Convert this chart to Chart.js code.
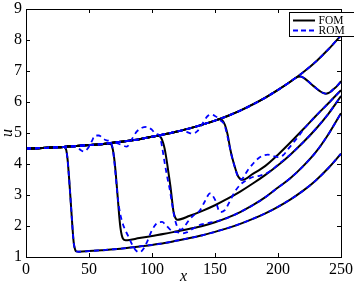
<!DOCTYPE html>
<html>
<head>
<meta charset="utf-8">
<script src="https://cdn.jsdelivr.net/npm/chart.js@4.4.1/dist/chart.umd.min.js"></script>
<style>
  body { margin: 0; background: #fff; }
</style>
</head>
<body>
<canvas id="chart" width="354" height="284"></canvas>
<script>
Chart.defaults.font.family = "'Liberation Serif', 'DejaVu Serif', serif";
Chart.defaults.color = '#000';

// upper branch (inflow side), shared by every snapshot
const envX = [0, 10, 20, 30, 40, 50, 60, 70, 80, 90, 100, 110, 120, 130, 140, 150, 160, 170, 180, 190, 200, 210, 220, 230, 240, 250];
const envU = [4.50, 4.51, 4.53, 4.55, 4.58, 4.61, 4.64, 4.69, 4.74, 4.80, 4.88, 4.96, 5.05, 5.15, 5.27, 5.40, 5.55, 5.72, 5.92, 6.14, 6.39, 6.66, 6.96, 7.30, 7.70, 8.15];

// FOM snapshots: shock + downstream branch
const fom1X = [31, 32, 33, 34, 35, 36, 37, 38, 39, 40, 42, 50, 60, 70, 80, 90, 100, 110, 120, 130, 140, 150, 160, 170, 180, 190, 200, 210, 220, 230, 240, 250];
const fom1U = [4.53, 4.44, 4.15, 3.65, 3.08, 2.48, 1.88, 1.42, 1.24, 1.18, 1.17, 1.19, 1.22, 1.25, 1.29, 1.34, 1.39, 1.45, 1.53, 1.61, 1.70, 1.81, 1.93, 2.07, 2.23, 2.41, 2.62, 2.86, 3.14, 3.47, 3.87, 4.33];

const fom2X = [67, 68, 69, 70, 71, 72, 73, 74, 75, 76, 77, 79, 90, 100, 110, 120, 130, 140, 150, 160, 170, 180, 190, 200, 210, 220, 230, 240, 250];
const fom2U = [4.66, 4.60, 4.45, 4.18, 3.80, 3.32, 2.82, 2.32, 1.93, 1.70, 1.59, 1.54, 1.61, 1.68, 1.75, 1.83, 1.91, 2.00, 2.12, 2.27, 2.45, 2.67, 2.93, 3.24, 3.55, 3.93, 4.38, 4.96, 5.64];

const fom3X = [103, 105, 107, 108, 109, 110, 111, 112, 113, 114, 115, 116, 117, 118, 120, 130, 140, 150, 160, 170, 180, 190, 200, 210, 220, 230, 240, 250];
const fom3U = [4.90, 4.92, 4.86, 4.78, 4.66, 4.50, 4.28, 4.02, 3.74, 3.46, 3.16, 2.80, 2.48, 2.32, 2.20, 2.33, 2.49, 2.67, 2.88, 3.11, 3.37, 3.65, 3.96, 4.31, 4.70, 5.13, 5.62, 6.19];

const fom4X = [152, 154, 156, 158, 160, 162, 164, 166, 168, 170, 172, 180, 190, 200, 210, 220, 230, 240, 250];
const fom4U = [5.43, 5.45, 5.40, 5.25, 4.95, 4.50, 4.15, 3.87, 3.63, 3.52, 3.49, 3.68, 3.94, 4.30, 4.70, 5.12, 5.55, 5.96, 6.38];

const fom5X = [214, 216, 218, 220, 222, 225, 228, 231, 234, 236, 238, 240, 242, 244, 246, 248, 250];
const fom5U = [6.78, 6.81, 6.82, 6.79, 6.73, 6.63, 6.52, 6.42, 6.33, 6.29, 6.27, 6.29, 6.34, 6.41, 6.48, 6.57, 6.67];

// ROM snapshots where they leave the FOM (Gibbs-like wiggles)
const rom2X = [40, 43, 46, 49, 52, 55, 58, 61, 64, 67, 69, 71, 73, 75, 77, 79, 81, 84, 87, 90, 93, 96, 99, 102, 105, 108, 111, 114, 117, 120, 124, 128, 132, 136, 140, 145, 150, 155, 160, 170, 180, 190, 200, 210, 220, 230, 240, 250];
const rom2U = [4.57, 4.46, 4.40, 4.50, 4.72, 4.92, 4.92, 4.82, 4.76, 4.72, 4.45, 3.70, 2.85, 2.35, 2.05, 1.85, 1.68, 1.42, 1.22, 1.15, 1.25, 1.48, 1.78, 2.00, 2.12, 2.13, 2.03, 1.90, 1.82, 1.80, 1.76, 1.80, 1.90, 2.00, 2.06, 2.10, 2.14, 2.19, 2.26, 2.45, 2.67, 2.93, 3.24, 3.55, 3.93, 4.38, 4.96, 5.64];

const rom3X = [70, 75, 80, 84, 88, 92, 96, 100, 103, 106, 108, 110, 112, 114, 116, 118, 120, 123, 126, 130, 134, 138, 142, 146, 150, 154, 158, 162, 166, 170, 175, 180, 185, 190, 195, 200, 210, 220, 230, 240, 250];
const rom3U = [4.69, 4.63, 4.56, 4.80, 5.05, 5.17, 5.20, 5.10, 4.97, 4.92, 4.55, 4.05, 3.60, 3.20, 2.70, 2.25, 1.98, 1.88, 2.00, 2.22, 2.38, 2.50, 2.80, 3.05, 2.85, 2.45, 2.52, 2.82, 3.12, 3.33, 3.48, 3.58, 3.62, 3.68, 3.80, 3.98, 4.31, 4.70, 5.13, 5.62, 6.19];

const rom4X = [120, 125, 129, 132, 136, 140, 144, 147, 150, 153, 155, 157, 159, 161, 163, 165, 167, 169, 171, 173, 176, 180, 184, 188, 192, 196, 200, 204, 208, 212, 216, 220, 230, 240, 250];
const rom4U = [5.05, 5.08, 5.01, 4.98, 5.06, 5.30, 5.54, 5.60, 5.55, 5.46, 5.38, 5.30, 5.05, 4.68, 4.30, 4.00, 3.72, 3.55, 3.50, 3.60, 3.80, 4.00, 4.17, 4.27, 4.30, 4.26, 4.22, 4.28, 4.48, 4.68, 4.88, 5.10, 5.55, 5.96, 6.38];

const xTicks = [0, 50, 100, 150, 200, 250];
const yTicks = [1, 2, 3, 4, 5, 6, 7, 8, 9];
const names = ['FOM', 'ROM'];

function toPts(xs, us) {
    return xs.map((x, i) => ({ x: x, y: us[i] }));
}

// prepend the upper branch up to where the given segment starts
function withEnv(xs, us) {
    const head = [];
    envX.forEach((x, i) => {
        if (x < xs[0]) head.push({ x: x, y: envU[i] });
    });
    return head.concat(toPts(xs, us));
}

const fomCurves = [
    withEnv(fom1X, fom1U),
    withEnv(fom2X, fom2U),
    withEnv(fom3X, fom3U),
    withEnv(fom4X, fom4U),
    withEnv(fom5X, fom5U),
    toPts(envX, envU),
];
const romCurves = [
    withEnv(fom1X, fom1U),
    withEnv(rom2X, rom2U),
    withEnv(rom3X, rom3U),
    withEnv(rom4X, rom4U),
    withEnv(fom5X, fom5U),
    toPts(envX, envU),
];

const datasets = [];
fomCurves.forEach(c => datasets.push({
    label: names[0], data: c, borderColor: '#000000', borderWidth: 2,
    fill: false, pointRadius: 0, cubicInterpolationMode: 'monotone', order: 1,
}));
romCurves.forEach(c => datasets.push({
    label: names[1], data: c, borderColor: '#0000ff', borderWidth: 1.8, borderDash: [5, 4],
    fill: false, pointRadius: 0, cubicInterpolationMode: 'monotone', order: 0,
}));

// box, inward ticks on all four sides, legend in the upper right
const axesFrame = {
    id: 'axesFrame',
    afterDatasetsDraw(chart) {
        const { ctx, chartArea: a, scales } = chart;
        ctx.save();
        ctx.strokeStyle = '#000';
        ctx.lineWidth = 1;
        ctx.setLineDash([]);
        ctx.strokeRect(a.left + 0.5, a.top + 0.5, a.right - a.left, a.bottom - a.top);
        ctx.beginPath();
        xTicks.forEach(v => {
            const px = Math.round(scales.x.getPixelForValue(v)) + 0.5;
            ctx.moveTo(px, a.bottom); ctx.lineTo(px, a.bottom - 4);
            ctx.moveTo(px, a.top); ctx.lineTo(px, a.top + 4);
        });
        yTicks.forEach(v => {
            const py = Math.round(scales.y.getPixelForValue(v)) + 0.5;
            ctx.moveTo(a.left, py); ctx.lineTo(a.left + 4, py);
            ctx.moveTo(a.right, py); ctx.lineTo(a.right - 4, py);
        });
        ctx.stroke();

        // legend
        const lx = 289.5, ly = 12.5;
        ctx.fillStyle = '#fff';
        ctx.fillRect(lx, ly, 80, 24);
        ctx.strokeRect(lx, ly, 80, 24);
        ctx.font = "11.5px 'Liberation Serif', serif";
        ctx.textBaseline = 'middle';
        ctx.fillStyle = '#000';
        [['#000000', [], 2, 20.5], ['#0000ff', [5, 3], 1.8, 30.5]].forEach((s, i) => {
            ctx.strokeStyle = s[0];
            ctx.setLineDash(s[1]);
            ctx.lineWidth = s[2];
            ctx.beginPath();
            ctx.moveTo(293, s[3]);
            ctx.lineTo(315, s[3]);
            ctx.stroke();
            ctx.fillText(names[i], 318.5, s[3]);
        });
        ctx.restore();
    }
};

new Chart(document.getElementById('chart'), {
    type: 'line',
    data: { datasets },
    plugins: [axesFrame],
    options: {
        responsive: false,
        animation: false,
        layout: { padding: { top: 9, right: 13, left: 0, bottom: 0 } },
        plugins: { legend: { display: false }, tooltip: { enabled: false } },
        scales: {
            x: {
                type: 'linear', min: 0, max: 250,
                afterBuildTicks: s => { s.ticks = xTicks.map(v => ({ value: v })); },
                afterFit: s => { s.height = 27; s.paddingLeft = 0; s.paddingRight = 0; },
                grid: { display: false, drawTicks: false },
                border: { display: false },
                ticks: { padding: 3, maxRotation: 0, autoSkip: false, font: { size: 16 }, color: '#000' },
                title: { display: true, text: 'x', padding: { top: 0, bottom: -1 }, font: { size: 16, style: 'italic', lineHeight: 1 }, color: '#000' },
            },
            y: {
                type: 'linear', min: 1, max: 9,
                afterBuildTicks: s => { s.ticks = yTicks.map(v => ({ value: v })); },
                afterFit: s => { s.width = 26; s.paddingTop = 0; s.paddingBottom = 0; },
                grid: { display: false, drawTicks: false },
                border: { display: false },
                ticks: { padding: 4, autoSkip: false, font: { size: 16 }, color: '#000' },
                title: { display: true, text: 'u', padding: 0, font: { size: 16, style: 'italic', lineHeight: 1 }, color: '#000' },
            },
        },
    },
});
</script>
</body>
</html>
